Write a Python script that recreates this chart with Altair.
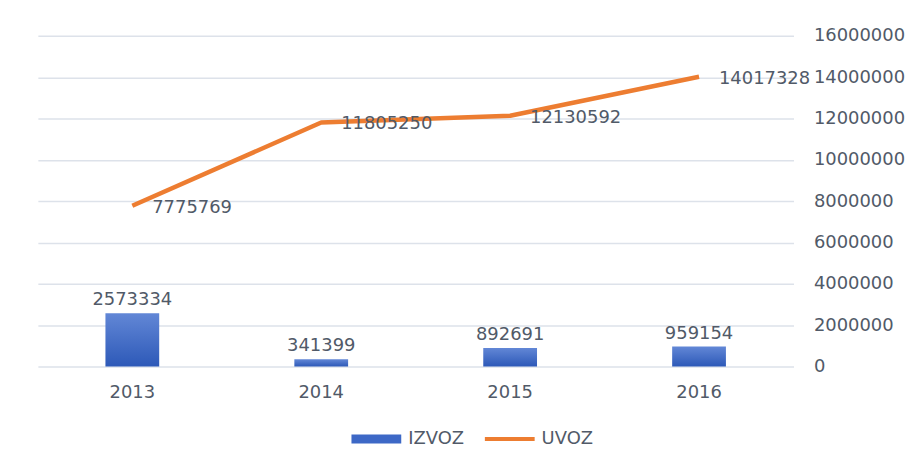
import altair as alt
import pandas as pd

years = ["2013", "2014", "2015", "2016"]
izvoz = [2573334, 341399, 892691, 959154]
uvoz = [7775769, 11805250, 12130592, 14017328]
series_names = ["IZVOZ", "UVOZ"]
y_ticks = [0, 2000000, 4000000, 6000000, 8000000, 10000000, 12000000, 14000000, 16000000]

bar_df = pd.DataFrame({"year": years, "value": izvoz, "series": "IZVOZ"})
line_df = pd.DataFrame({"year": years, "value": uvoz, "series": "UVOZ"})
all_df = pd.concat([bar_df, line_df], ignore_index=True)

FONT = "DejaVu Sans"
TXT = "#515a68"
BLUE = "#3d68c6"
ORANGE = "#ed7d31"
FS = 18

x_enc = alt.X("year:N", sort=years, title=None,
              scale=alt.Scale(paddingInner=0, paddingOuter=0),
              axis=alt.Axis(labelAngle=0, domain=False, ticks=False, grid=False,
                            labelPadding=17, labelFontSize=FS, labelColor=TXT, labelFont=FONT))
y_enc = alt.Y("value:Q", title=None,
              scale=alt.Scale(domain=[0, 16000000], nice=False),
              axis=alt.Axis(orient="right", values=y_ticks, format="d", domain=False, ticks=False,
                            grid=True, gridColor="#dde2ea", gridWidth=1.5,
                            labelPadding=20, labelFontSize=FS, labelColor=TXT, labelFont=FONT,
                            labelAlign="left"))

gradient = {
    "gradient": "linear", "x1": 0, "x2": 0, "y1": 0, "y2": 1,
    "stops": [{"offset": 0, "color": "#6287d6"}, {"offset": 1, "color": "#2d59b8"}],
}

bars = alt.Chart(bar_df).mark_bar(size=54, color=gradient).encode(x=x_enc, y=y_enc)
bar_labels = alt.Chart(bar_df).mark_text(baseline="alphabetic", dy=-8, fontSize=FS, font=FONT,
                                         color=TXT).encode(x=alt.X("year:N", sort=years),
                                                           y="value:Q", text="value:Q")

line = alt.Chart(line_df).mark_line(color=ORANGE, strokeWidth=4.5, strokeJoin="round").encode(
    x=alt.X("year:N", sort=years), y="value:Q")
line_labels = alt.Chart(line_df).mark_text(align="left", baseline="middle", dx=20, dy=2,
                                           fontSize=FS, font=FONT, color=TXT).encode(
    x=alt.X("year:N", sort=years), y="value:Q", text="value:Q")

rect_path = "M-1,-0.18H1V0.18H-1Z"
line_path = "M-1,-0.08H1V0.08H-1Z"

leg = dict(title=None, orient="none", legendX=315, legendY=380, direction="horizontal",
           symbolSize=2500, symbolOpacity=1, symbolStrokeWidth=0, labelOffset=7,
           columnPadding=20, labelFontSize=FS, labelColor=TXT, labelFont=FONT, padding=0)

legend_layer = alt.Chart(all_df).mark_point(filled=True, opacity=0).encode(
    x=alt.X("year:N", sort=years), y="value:Q",
    color=alt.Color("series:N", scale=alt.Scale(domain=series_names, range=[BLUE, ORANGE]),
                    legend=alt.Legend(**leg)),
    shape=alt.Shape("series:N", scale=alt.Scale(domain=series_names, range=[rect_path, line_path]),
                    legend=alt.Legend(**leg)),
)

chart = alt.layer(bars, bar_labels, line, line_labels, legend_layer).properties(
    width=759, height=332, background="white",
    padding={"left": 30, "top": 18, "right": 0, "bottom": 0},
).configure_view(strokeWidth=0, stroke="transparent")

chart.save("out.html", embed_options={"renderer": "svg", "actions": False})
